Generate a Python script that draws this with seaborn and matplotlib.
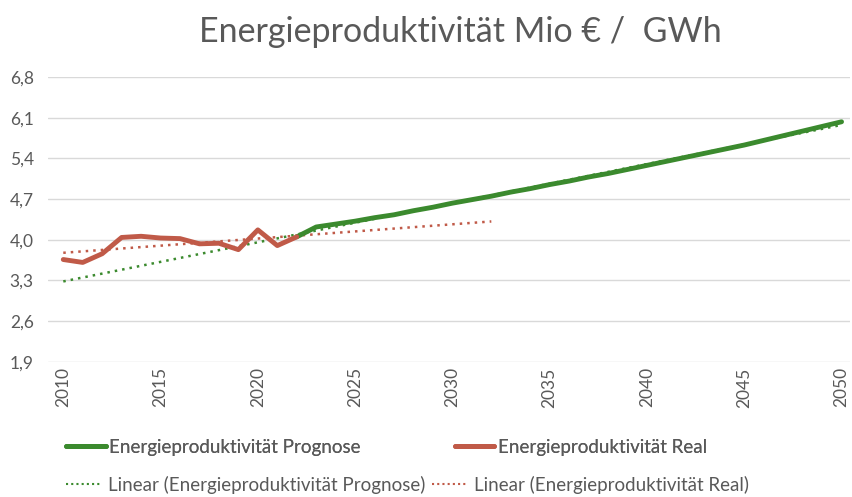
import numpy as np
import pandas as pd
import matplotlib
matplotlib.use("Agg")
import matplotlib.pyplot as plt
from matplotlib.lines import Line2D
from matplotlib.ticker import FuncFormatter
import seaborn as sns

# values
years_real = list(range(2010, 2023))
real = [3.66, 3.61, 3.76, 4.04, 4.06, 4.03, 4.02, 3.93, 3.94, 3.83, 4.17, 3.90, 4.05]

years_prog = list(range(2022, 2051))
prog = [4.05, 4.22, 4.27, 4.32, 4.38, 4.43, 4.50, 4.56, 4.63, 4.69, 4.75, 4.82, 4.88,
        4.95, 5.01, 5.08, 5.14, 5.21, 5.28, 5.35, 5.42, 5.49, 5.56, 5.63, 5.71, 5.79,
        5.87, 5.95, 6.03]

y_ticks = [1.9, 2.6, 3.3, 4.0, 4.7, 5.4, 6.1, 6.8]
x_ticks = list(range(2010, 2051, 5))

GREEN = "#3b8a2e"
RED = "#c05a48"
GREY = "#595959"

sns.set_theme(style="white")
plt.rcParams["font.family"] = ["Lato", "DejaVu Sans"]

df_real = pd.DataFrame({"Jahr": years_real, "Wert": real})
df_prog = pd.DataFrame({"Jahr": years_prog, "Wert": prog})

# linear trend lines (like Excel)
k_r, d_r = np.polyfit(years_real, real, 1)
k_p, d_p = np.polyfit(years_prog, prog, 1)
tr_real = pd.DataFrame({"Jahr": [2010, 2032]})
tr_real["Wert"] = k_r * tr_real["Jahr"] + d_r
tr_prog = pd.DataFrame({"Jahr": [2010, 2050]})
tr_prog["Wert"] = k_p * tr_prog["Jahr"] + d_p

fig = plt.figure(figsize=(8.52, 4.97), dpi=100)
ax = fig.add_axes([0.056, 0.272, 0.942, 0.573])

for y in y_ticks:
    ax.axhline(y, color="#d9d9d9", lw=1, zorder=0)

sns.lineplot(data=tr_prog, x="Jahr", y="Wert", ax=ax, color=GREEN, lw=1.8,
             linestyle=(0, (1, 2)), zorder=2)
sns.lineplot(data=tr_real, x="Jahr", y="Wert", ax=ax, color=RED, lw=1.8,
             linestyle=(0, (1, 2)), zorder=2)
sns.lineplot(data=df_prog, x="Jahr", y="Wert", ax=ax, color=GREEN, lw=3.5, zorder=3)
sns.lineplot(data=df_real, x="Jahr", y="Wert", ax=ax, color=RED, lw=3.5, zorder=4)

ax.set_xlim(2009.2, 2050.45)
ax.set_ylim(1.9, 6.8)
ax.set_yticks(y_ticks)
ax.yaxis.set_major_formatter(FuncFormatter(lambda v, p: f"{v:.1f}".replace(".", ",")))
ax.set_xticks(x_ticks)
ax.set_xticklabels([str(x) for x in x_ticks], rotation=90)
ax.tick_params(axis="both", colors=GREY, labelsize=12.5, length=0)
ax.tick_params(axis="y", pad=10)
ax.tick_params(axis="x", pad=4)
ax.set_xlabel("")
ax.set_ylabel("")
for s in ax.spines.values():
    s.set_visible(False)

fig.text(0.54, 0.935, "Energieproduktivität Mio € /  GWh", ha="center", va="center",
         fontsize=24.5, color=GREY)

h1 = [Line2D([], [], color=GREEN, lw=3.5), Line2D([], [], color=RED, lw=3.5)]
l1 = ["Energieproduktivität Prognose", "Energieproduktivität Real"]
leg1 = fig.legend(h1, l1, loc="center left", bbox_to_anchor=(0.058, 0.10), ncol=2,
                  frameon=False, fontsize=13.5, handlelength=2.1, handletextpad=0.2,
                  columnspacing=5.0, labelcolor=GREY)
h2 = [Line2D([], [], color=GREEN, lw=1.5, linestyle=(0, (1, 1.5))),
      Line2D([], [], color=RED, lw=1.5, linestyle=(0, (1, 1.5)))]
l2 = ["Linear (Energieproduktivität Prognose)", "Linear (Energieproduktivität Real)"]
fig.legend(h2, l2, loc="center left", bbox_to_anchor=(0.058, 0.025), ncol=2,
           frameon=False, fontsize=13.5, handlelength=1.9, handletextpad=0.3,
           columnspacing=0.4, labelcolor=GREY)
fig.add_artist(leg1)

fig.savefig("out.png", dpi=100)
